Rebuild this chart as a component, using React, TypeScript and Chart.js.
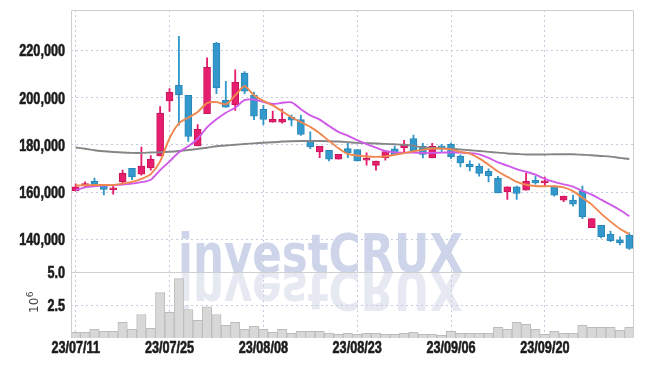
import React, { useEffect, useRef } from 'react';
import { Chart, registerables } from 'chart.js';

Chart.register(...registerables);

const dates = [
  '23/07/11','23/07/12','23/07/13','23/07/14','23/07/17','23/07/18','23/07/19','23/07/20','23/07/21','23/07/24',
  '23/07/25','23/07/26','23/07/27','23/07/28','23/07/31','23/08/01','23/08/02','23/08/03','23/08/04','23/08/07',
  '23/08/08','23/08/09','23/08/10','23/08/11','23/08/14','23/08/16','23/08/17','23/08/18','23/08/21','23/08/22',
  '23/08/23','23/08/24','23/08/25','23/08/28','23/08/29','23/08/30','23/08/31','23/09/01','23/09/04','23/09/05',
  '23/09/06','23/09/07','23/09/08','23/09/11','23/09/12','23/09/13','23/09/14','23/09/15','23/09/18','23/09/19',
  '23/09/20','23/09/21','23/09/22','23/09/25','23/09/26','23/09/27','23/10/04','23/10/05','23/10/06','23/10/10',
];

const opens = [
  160500,162800,164600,162800,161000,164300,170100,167600,170200,175300,
  198600,205200,201000,179500,193200,223000,198900,197000,210400,201000,
  195000,189600,189600,191700,190700,181900,177000,177700,173900,178400,
  178000,173500,171300,174600,178300,178700,182700,179400,174500,179400,
  180200,175200,171900,170900,168800,165800,160100,162200,160800,165000,
  163900,162500,156600,156600,160400,144900,145900,142200,139800,141800,
];
const highs = [
  163500,164300,165900,163300,162800,169300,170100,179100,175500,196200,
  203800,225900,201000,188600,216900,223400,206900,211800,211000,202400,
  196700,194300,195200,192600,192500,185500,179400,177700,176000,180600,
  178000,176600,173100,177200,179500,181900,184100,180600,180600,180200,
  180800,175800,173200,172000,169800,166700,162200,162500,167900,166800,
  166400,162500,158300,158700,162500,148800,145900,143500,141100,142800,
];
const lows = [
  160500,162000,162300,158800,159100,163900,165300,167200,169300,175300,
  194200,188300,181500,179500,193200,201700,195800,194600,201700,190700,
  188600,189600,189200,188000,184000,178400,174600,173200,173900,174600,
  173200,171400,169300,173500,175700,177000,177400,174500,174500,177000,
  174200,170700,169000,166700,164300,159700,156900,156900,160800,163400,
  162500,158300,155900,154000,148800,144900,140600,139000,137600,135700,
];
const closes = [
  162200,163200,162500,161100,161600,167900,166400,171000,173900,193500,
  202200,201100,183600,186600,212800,204100,196000,206500,202700,192100,
  190800,190800,190800,190500,184400,179100,179400,173900,176000,176600,
  173200,174300,173100,177200,175700,180200,177400,175900,179400,178700,
  174900,172400,170700,167900,166900,159700,162200,159400,164600,163900,
  164800,158700,158300,154900,149500,148800,141100,139400,138500,136200,
];

const ma5 = [
  162800,162900,163000,163000,163000,163600,164300,165600,167600,173000,
  182800,189100,191500,193900,197700,198100,197200,201000,204800,201000,
  198600,196700,194200,191700,189600,187600,184900,181700,178600,176200,
  175500,175100,174900,175100,175800,176500,177300,177900,178400,178400,
  178100,177000,176300,174300,171600,168700,166500,164300,163100,162600,
  162500,162500,162000,160400,157600,154700,150900,147500,144500,142200,
];
const ma10 = [
  160800,162000,162500,162800,163000,163200,163600,164200,165200,169300,
  173000,176900,179400,182600,187400,190800,193600,195700,198900,199200,
  198200,197300,197800,198000,195100,192500,190700,188000,185500,183900,
  182000,180300,178800,177400,176800,176700,176700,176600,176600,176700,
  176900,176700,176500,176000,174500,172600,171200,169700,168600,167400,
  165600,164300,163300,162300,160500,158900,156800,154700,152400,149800,
];
const maLong = [
  178900,178350,177700,177300,177000,176750,176600,176600,176750,176900,
  177100,177400,177800,178300,178800,179400,179700,180050,180350,180650,
  180900,181100,181400,181550,181650,181650,181650,181550,181400,181150,
  180850,180700,180600,180400,180250,180050,179600,178900,178650,178550,
  178400,178050,177700,177400,177050,176700,176350,176150,175950,175900,
  175950,176000,176000,176000,175800,175600,175300,175000,174500,174000,
];

// volume in millions of shares (axis unit 10^6)
const volumes = [
  0.43,0.43,0.66,0.51,0.51,1.19,0.66,1.79,0.73,3.46,
  1.95,4.52,2.17,1.34,2.38,1.79,0.96,1.19,0.66,0.89,
  0.66,0.43,0.66,0.35,0.51,0.51,0.51,0.38,0.28,0.35,
  0.28,0.35,0.35,0.28,0.28,0.35,0.43,0.28,0.28,0.20,
  0.51,0.35,0.35,0.35,0.35,0.81,0.66,1.19,1.04,0.66,
  0.28,0.51,0.35,0.35,0.96,0.81,0.81,0.81,0.58,0.81,
];

const priceTicks = [140000, 160000, 180000, 200000, 220000];
const volumeTicks = [2.5, 5.0];

const UP = '#e61e6e';
const UP_BORDER = '#c9145a';
const DOWN = '#3399cc';
const DOWN_BORDER = '#2a86b6';
const GRID = '#c6cce0';
const FRAME = '#cfcfcf';
const LABEL_FONT = "bold 16px 'Liberation Sans', Arial, sans-serif";
const LABEL_SX = 0.79;

function drawNarrow(ctx: CanvasRenderingContext2D, text: string, x: number, y: number, align: 'right' | 'center') {
  ctx.save();
  ctx.font = LABEL_FONT;
  ctx.fillStyle = '#1c1c1c';
  ctx.strokeStyle = '#1c1c1c';
  ctx.lineWidth = 0.6;
  ctx.textBaseline = 'middle';
  ctx.textAlign = align;
  ctx.translate(x, y);
  ctx.scale(LABEL_SX, 1);
  ctx.fillText(text, 0, 0);
  ctx.strokeText(text, 0, 0);
  ctx.restore();
}

const decorPlugin = {
  id: 'decor',
  beforeDraw(chart: any) {
    const { ctx, chartArea } = chart;
    const yv = chart.scales.yv;
    const baseY = yv.top;
    const x0 = chartArea.left + 107;
    const targetW = 285;
    ctx.save();
    ctx.font = "bold 54px 'DejaVu Sans', sans-serif";
    const w = ctx.measureText('investCRUX').width;
    const sx = targetW / w;
    ctx.save();
    ctx.translate(x0, baseY);
    ctx.scale(sx, -1);
    ctx.fillStyle = '#e7e9f2';
    ctx.textBaseline = 'alphabetic';
    ctx.fillText('investCRUX', 0, 0);
    ctx.restore();
    ctx.save();
    ctx.translate(x0, baseY);
    ctx.scale(sx, 1);
    ctx.fillStyle = '#ced4e9';
    ctx.textBaseline = 'alphabetic';
    ctx.fillText('investCRUX', 0, 0);
    ctx.restore();
    ctx.restore();
  },
  afterDraw(chart: any) {
    const { ctx, chartArea } = chart;
    const { x, y, yv } = chart.scales;
    ctx.save();
    ctx.strokeStyle = FRAME;
    ctx.lineWidth = 1;
    ctx.beginPath();
    ctx.moveTo(chartArea.left + 0.5, chartArea.bottom);
    ctx.lineTo(chartArea.left + 0.5, chartArea.top + 0.5);
    ctx.lineTo(chartArea.right - 0.5, chartArea.top + 0.5);
    ctx.lineTo(chartArea.right - 0.5, chartArea.bottom);
    ctx.stroke();
    ctx.beginPath();
    const sy = Math.round(yv.top) + 0.5;
    ctx.moveTo(chartArea.left, sy);
    ctx.lineTo(chartArea.right, sy);
    ctx.stroke();
    ctx.restore();

    priceTicks.forEach((v) => {
      drawNarrow(ctx, v.toLocaleString('en-US'), 65, y.getPixelForValue(v) + 1.5, 'right');
    });
    volumeTicks.forEach((v) => {
      drawNarrow(ctx, v.toFixed(1), 65, yv.getPixelForValue(v) + 1.5, 'right');
    });
    dates.forEach((d, i) => {
      if (i % 10 === 0) drawNarrow(ctx, d, x.getPixelForValue(i), chartArea.bottom + 11, 'center');
    });

    ctx.save();
    ctx.translate(38, 313);
    ctx.rotate(-Math.PI / 2);
    ctx.fillStyle = '#444';
    ctx.textBaseline = 'alphabetic';
    ctx.font = "12px 'DejaVu Sans', sans-serif";
    ctx.fillText('10', 0, 0);
    const tw = ctx.measureText('10').width;
    ctx.font = "9px 'DejaVu Sans', sans-serif";
    ctx.fillText('6', tw + 0.5, -5);
    ctx.restore();
  },
};

export default function App() {
  const ref = useRef<HTMLCanvasElement | null>(null);

  useEffect(() => {
    document.body.style.margin = '0';
    const canvas = ref.current;
    if (!canvas) return;
    const isUp = opens.map((o, i) => closes[i] >= o);
    const chart = new Chart(canvas, {
      type: 'bar',
      data: {
        labels: dates,
        datasets: [
          {
            type: 'line',
            label: 'MA5',
            data: ma5,
            yAxisID: 'y',
            borderColor: '#f0874f',
            borderWidth: 1.9,
            pointRadius: 0,
            tension: 0.25,
            order: 0,
          } as any,
          {
            type: 'line',
            label: 'MA10',
            data: ma10,
            yAxisID: 'y',
            borderColor: '#cf5ae9',
            borderWidth: 1.9,
            pointRadius: 0,
            tension: 0.25,
            order: 0,
          } as any,
          {
            type: 'line',
            label: 'MA60',
            data: maLong,
            yAxisID: 'y',
            borderColor: '#858585',
            borderWidth: 1.9,
            pointRadius: 0,
            tension: 0.3,
            order: 0,
          } as any,
          {
            type: 'bar',
            label: 'body',
            data: opens.map((o, i) => [o, closes[i]]),
            yAxisID: 'y',
            backgroundColor: isUp.map((u) => (u ? UP : DOWN)),
            borderColor: isUp.map((u) => (u ? UP_BORDER : DOWN_BORDER)),
            borderWidth: 1,
            borderSkipped: false,
            barThickness: 7,
            minBarLength: 2,
            grouped: false,
            order: 1,
          } as any,
          {
            type: 'bar',
            label: 'wick',
            data: lows.map((l, i) => [l, highs[i]]),
            yAxisID: 'y',
            backgroundColor: isUp.map((u) => (u ? UP : DOWN)),
            borderWidth: 0,
            barThickness: 1.2,
            grouped: false,
            order: 2,
          } as any,
          {
            type: 'bar',
            label: 'volume',
            data: volumes,
            yAxisID: 'yv',
            backgroundColor: '#d8d8d8',
            borderColor: '#bcbcbc',
            borderWidth: 1,
            barPercentage: 1,
            categoryPercentage: 1,
            grouped: false,
            order: 3,
          } as any,
        ],
      },
      options: {
        animation: false,
        responsive: false,
        maintainAspectRatio: false,
        layout: { padding: { top: 10, right: 11, left: 0, bottom: 0 } },
        plugins: { legend: { display: false }, tooltip: { enabled: false } },
        scales: {
          x: {
            type: 'category',
            offset: true,
            grid: {
              offset: false,
              drawTicks: false,
              color: (c: any) => (c.index % 10 === 0 ? GRID : 'rgba(0,0,0,0)'),
            },
            border: { display: false, dash: [2, 3] },
            ticks: { display: false, autoSkip: false },
            afterFit: (s: any) => {
              s.height = 28;
            },
          },
          yv: {
            type: 'linear',
            position: 'left',
            stack: 'main',
            stackWeight: 1,
            min: 0,
            max: 5,
            afterBuildTicks: (s: any) => {
              s.ticks = volumeTicks.map((v) => ({ value: v }));
            },
            grid: {
              drawTicks: false,
              color: (c: any) => (c.tick && c.tick.value === 5 ? 'rgba(0,0,0,0)' : GRID),
            },
            border: { display: false, dash: [2, 3] },
            ticks: { display: false },
            afterFit: (s: any) => {
              s.width = 71;
            },
          },
          y: {
            type: 'linear',
            position: 'left',
            stack: 'main',
            stackWeight: 4,
            min: 126000,
            max: 237100,
            afterBuildTicks: (s: any) => {
              s.ticks = priceTicks.map((v) => ({ value: v }));
            },
            grid: { color: GRID, drawTicks: false },
            border: { display: false, dash: [2, 3] },
            ticks: { display: false },
            afterFit: (s: any) => {
              s.width = 71;
            },
          },
        } as any,
      },
      plugins: [decorPlugin],
    });
    return () => chart.destroy();
  }, []);

  return <canvas ref={ref} width={645} height={366} style={{ display: 'block' }} />;
}
